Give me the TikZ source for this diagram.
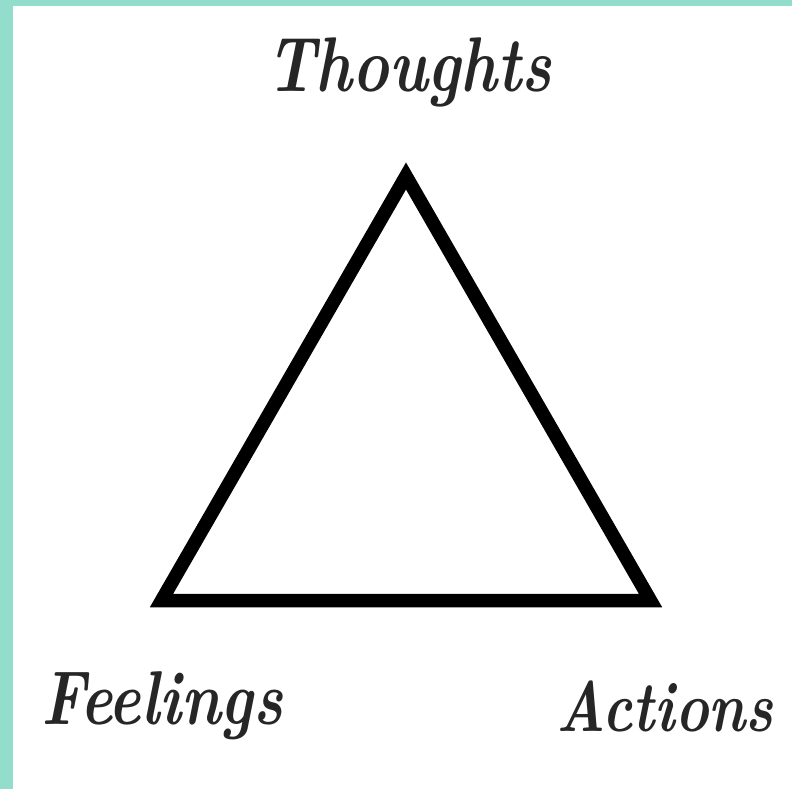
\documentclass[tikz,border=0pt]{standalone}
\usepackage{fontspec}
\setmainfont{Latin Modern Roman}
\definecolor{teal}{HTML}{93DDCD}
\tikzset{
  lbl/.style={font=\bfseries\itshape\fontsize{62}{62}\selectfont, text=black!85, inner sep=0pt, yscale=1.25}
}
\tikzset{
  tri/.style={line width=13.5pt, line join=miter, draw=black}
}
\begin{document}
\begin{tikzpicture}[x=1pt,y=-1pt]
\useasboundingbox (0,0) rectangle (792,789);
\fill[teal] (0,0) rectangle (792,6);
\fill[teal] (0,0) rectangle (13,789);
\coordinate (top) at (406,176);
\coordinate (bl) at (161.5,600.5);
\coordinate (br) at (650.5,600.5);
\draw[tri] (top) -- (bl) -- (br) -- cycle;
\node[lbl] (thoughts) at (409,72) {Thoughts};
\node[lbl, font=\bfseries\itshape\fontsize{61}{61}\selectfont] (feelings) at (162,706) {Feelings};
\node[lbl, font=\bfseries\itshape\fontsize{57}{57}\selectfont] (actions) at (665,706) {Actions};
\end{tikzpicture}
\end{document}
